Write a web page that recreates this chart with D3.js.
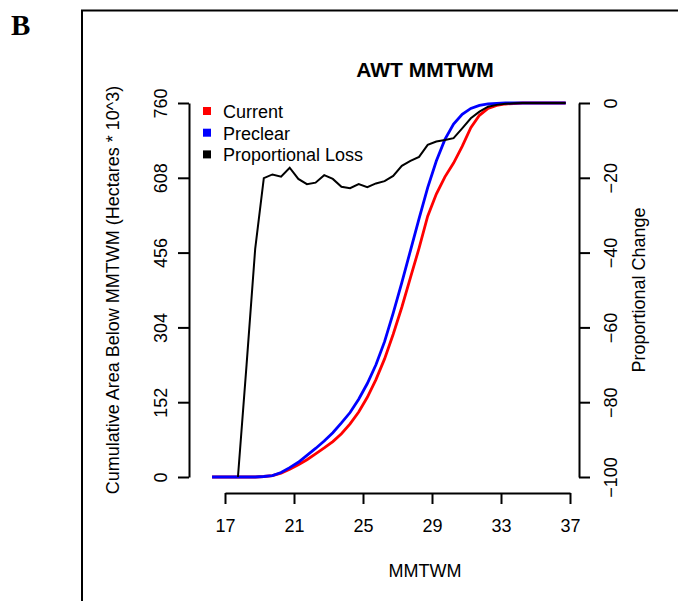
<!DOCTYPE html>
<html>
<head>
<meta charset="utf-8">
<script src="https://cdn.jsdelivr.net/npm/d3@7"></script>
<style>
  body { margin: 0; background: #fff; }
  svg text { font-family: "Liberation Sans", Arial, sans-serif; fill: #000; }
</style>
</head>
<body>
<div id="chart"></div>
<script>
// MMTWM bins (x)
var mmtwm = [16.25, 16.75, 17.25, 17.75, 18.25, 18.75, 19.25, 19.75, 20.25, 20.75,
             21.25, 21.75, 22.25, 22.75, 23.25, 23.75, 24.25, 24.75, 25.25, 25.75,
             26.25, 26.75, 27.25, 27.75, 28.25, 28.75, 29.25, 29.75, 30.25, 30.75,
             31.25, 31.75, 32.25, 32.75, 33.25, 33.75, 34.25, 34.75, 35.25, 35.75,
             36.25, 36.75];

// cumulative area (hectares * 10^3)
var current = [0, 0, 0, 0, 0, 0, 1, 3, 8, 16,
               25, 35, 47, 59, 72, 88, 108, 132, 162, 198,
               240, 290, 345, 405, 465, 530, 575, 610, 638, 672,
               710, 735, 749, 755, 758, 759, 760, 760, 760, 760,
               760, 760];
var preclear = [0, 0, 0, 0, 0, 0, 1, 3, 9, 19,
                30, 44, 58, 73, 90, 110, 131, 158, 190, 228,
                275, 333, 395, 460, 525, 588, 642, 686, 717, 737,
                749, 755, 758, 759, 760, 760, 760, 760, 760, 760,
                760, 760];
// proportional change (%)
var propLoss = [null, null, null, -100, -70, -39, -20.1, -19.1, -19.7, -17.3,
                -20.3, -21.7, -21.3, -19.3, -20.3, -22.4, -22.8, -21.7, -22.5, -21.5,
                -20.9, -19.5, -16.8, -15.5, -14.4, -11.2, -10.3, -9.9, -9.4, -6.8,
                -4.1, -2.3, -1.0, -0.5, -0.2, -0.1, 0, 0, 0, 0,
                0, 0];

var xTicks = [17, 21, 25, 29, 33, 37];
var leftTicks = [0, 152, 304, 456, 608, 760];
var rightTicks = [0, -20, -40, -60, -80, -100];
var legendNames = ["Current", "Preclear", "Proportional Loss"];
var legendColors = ["#ff0000", "#0000ff", "#000000"];

var width = 678, height = 601,
    axisLeftX = 189, axisRightX = 579, axisBottomY = 493,
    plotTop = 103, plotBottom = 477,
    midX = 425;

var svg = d3.select("#chart").append("svg")
    .attr("width", width)
    .attr("height", height);

// panel frame and letter
svg.append("rect")
    .attr("x", 82).attr("y", 10.5)
    .attr("width", 700).attr("height", 700)
    .attr("fill", "none").attr("stroke", "#000").attr("stroke-width", 2);

svg.append("text")
    .attr("x", 11).attr("y", 35)
    .style("font-family", "'Liberation Serif', 'Times New Roman', serif")
    .style("font-weight", "bold")
    .style("font-size", "29px")
    .text("B");

var x = d3.scaleLinear().domain([17, 37]).range([225, 570]);
var yL = d3.scaleLinear().domain([0, 760]).range([plotBottom, plotTop]);
var yR = d3.scaleLinear().domain([-100, 0]).range([plotBottom, plotTop]);

// lines
var lineL = function (vals) {
  return d3.line()
    .x(function (d, i) { return x(mmtwm[i]); })
    .y(function (d) { return yL(d); })(vals);
};

svg.append("path")
    .attr("d", lineL(current))
    .attr("fill", "none").attr("stroke", "#ff0000").attr("stroke-width", 2.8);

svg.append("path")
    .attr("d", lineL(preclear))
    .attr("fill", "none").attr("stroke", "#0000ff").attr("stroke-width", 2.8);

svg.append("path")
    .attr("d", d3.line()
      .defined(function (d) { return d !== null; })
      .x(function (d, i) { return x(mmtwm[i]); })
      .y(function (d) { return yR(d); })(propLoss))
    .attr("fill", "none").attr("stroke", "#000").attr("stroke-width", 2);

// axes
var gx = svg.append("g")
    .attr("transform", "translate(0," + axisBottomY + ")")
    .call(d3.axisBottom(x).tickValues(xTicks).tickSize(11).tickSizeOuter(0).tickPadding(15));
gx.selectAll("text").style("font-size", "18px");

var gl = svg.append("g")
    .attr("transform", "translate(" + axisLeftX + ",0)")
    .call(d3.axisLeft(yL).tickValues(leftTicks).tickSize(11).tickSizeOuter(0));
gl.selectAll("text")
    .attr("x", 0).attr("dy", 0)
    .attr("text-anchor", "middle")
    .attr("transform", "translate(-22.5,0) rotate(-90)")
    .style("font-size", "18px");

var gr = svg.append("g")
    .attr("transform", "translate(" + axisRightX + ",0)")
    .call(d3.axisRight(yR).tickValues(rightTicks).tickSize(11).tickSizeOuter(0));
gr.selectAll("text")
    .attr("x", 0).attr("dy", 0)
    .attr("text-anchor", "middle")
    .attr("transform", "translate(37.5,0) rotate(-90)")
    .style("font-size", "18px");

svg.selectAll(".domain, .tick line")
    .attr("stroke", "#000").attr("stroke-width", 2);

// titles
svg.append("text")
    .attr("x", midX).attr("y", 77)
    .attr("text-anchor", "middle")
    .style("font-weight", "bold")
    .style("font-size", "21px")
    .text("AWT MMTWM");

svg.append("text")
    .attr("x", midX).attr("y", 577)
    .attr("text-anchor", "middle")
    .style("font-size", "18px")
    .text("MMTWM");

svg.append("text")
    .attr("transform", "translate(119," + (plotTop + plotBottom) / 2 + ") rotate(-90)")
    .attr("text-anchor", "middle")
    .style("font-size", "18px")
    .text("Cumulative Area Below MMTWM (Hectares * 10^3)");

svg.append("text")
    .attr("transform", "translate(645," + (plotTop + plotBottom) / 2 + ") rotate(-90)")
    .attr("text-anchor", "middle")
    .style("font-size", "18px")
    .text("Proportional Change");

// legend
var lg = svg.append("g").attr("transform", "translate(203,107)");
lg.selectAll("rect")
    .data(legendNames)
    .enter().append("rect")
    .attr("x", 0)
    .attr("y", function (d, i) { return i * 21.7; })
    .attr("width", 8).attr("height", 8)
    .attr("fill", function (d, i) { return legendColors[i]; });
lg.selectAll("text")
    .data(legendNames)
    .enter().append("text")
    .attr("x", 20)
    .attr("y", function (d, i) { return i * 21.7 + 11; })
    .style("font-size", "18px")
    .text(function (d) { return d; });
</script>
</body>
</html>
